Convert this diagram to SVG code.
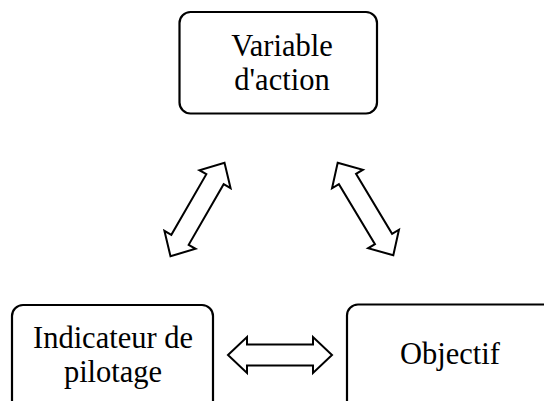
<svg xmlns="http://www.w3.org/2000/svg" width="544" height="401" viewBox="0 0 544 401">
<style>
.box{fill:#fff;stroke:#000;stroke-width:2.2}
.lbl{font-family:'Liberation Serif','Times New Roman',serif;font-size:30.5px;fill:#000;text-anchor:middle}
.arr{fill:#fff;stroke:#000;stroke-width:2;stroke-linejoin:miter}
</style>
<defs>
<path id="darr" d="M-54,0 L-35,-18 L-35,-10 L35,-10 L35,-18 L54,0 L35,18 L35,10 L-35,10 L-35,18 Z"/>
</defs>
<rect width="544" height="401" fill="#fff"/>
<g id="connectors">
<use href="#darr" class="arr" transform="translate(197.5,209.5) rotate(-60)"/>
<use href="#darr" class="arr" transform="translate(365.5,209) rotate(59)"/>
<path class="arr" d="M228,355 L247,337 L247,344.5 L313,344.5 L313,337 L332,355 L313,373 L313,365.5 L247,365.5 L247,373 Z"/>
</g>
<g id="variable">
<rect class="box" x="179.5" y="12" width="197.5" height="101.5" rx="11"/>
<text class="lbl" x="282" y="56">Variable</text>
<text class="lbl" x="282" y="90">d'action</text>
</g>
<g id="indicateur">
<rect class="box" x="12" y="305" width="201" height="110" rx="11"/>
<text class="lbl" x="113" y="348">Indicateur de</text>
<text class="lbl" x="113" y="382">pilotage</text>
</g>
<g id="objectif">
<rect class="box" x="347" y="304.5" width="210" height="110" rx="11"/>
<text class="lbl" x="450" y="364">Objectif</text>
</g>
</svg>
